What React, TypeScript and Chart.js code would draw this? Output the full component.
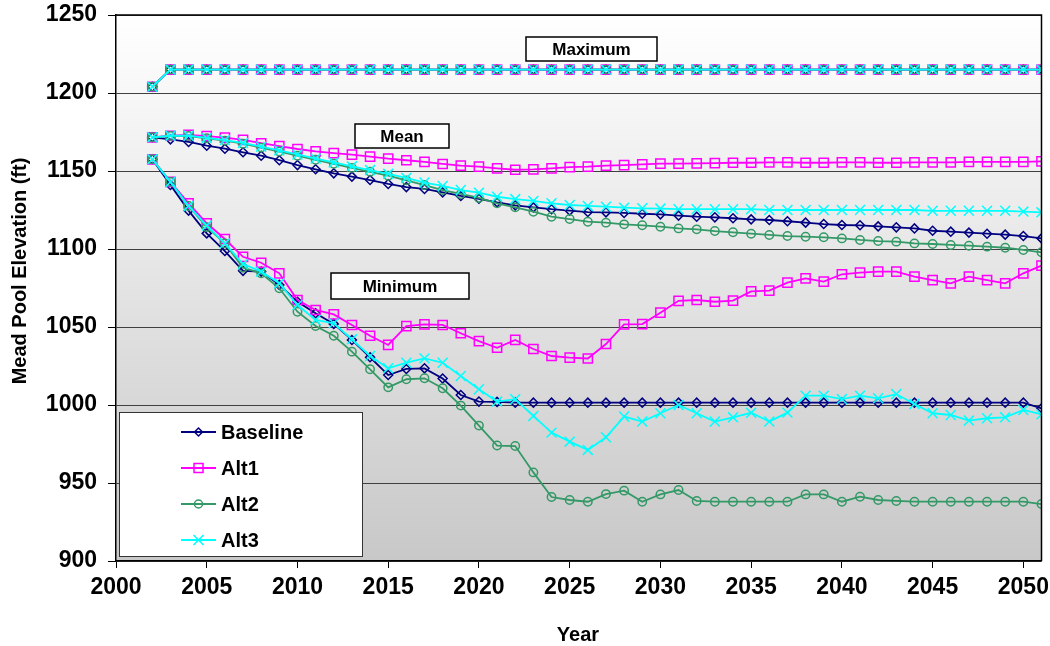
import React, { useEffect, useRef } from 'react';
import { Chart, registerables } from 'chart.js';

Chart.register(...registerables);

const years = [
  2002, 2003, 2004, 2005, 2006, 2007, 2008, 2009, 2010, 2011,
  2012, 2013, 2014, 2015, 2016, 2017, 2018, 2019, 2020, 2021,
  2022, 2023, 2024, 2025, 2026, 2027, 2028, 2029, 2030, 2031,
  2032, 2033, 2034, 2035, 2036, 2037, 2038, 2039, 2040, 2041,
  2042, 2043, 2044, 2045, 2046, 2047, 2048, 2049, 2050, 2051,
];

const xTicks = [2000, 2005, 2010, 2015, 2020, 2025, 2030, 2035, 2040, 2045, 2050];
const yTicks = [900, 950, 1000, 1050, 1100, 1150, 1200, 1250];

// Maximum (all alternatives coincide)
const baselineMax = [
  1204, 1215, 1215, 1215, 1215, 1215, 1215, 1215, 1215, 1215,
  1215, 1215, 1215, 1215, 1215, 1215, 1215, 1215, 1215, 1215,
  1215, 1215, 1215, 1215, 1215, 1215, 1215, 1215, 1215, 1215,
  1215, 1215, 1215, 1215, 1215, 1215, 1215, 1215, 1215, 1215,
  1215, 1215, 1215, 1215, 1215, 1215, 1215, 1215, 1215, 1215,
];
const alt1Max = [
  1204, 1215, 1215, 1215, 1215, 1215, 1215, 1215, 1215, 1215,
  1215, 1215, 1215, 1215, 1215, 1215, 1215, 1215, 1215, 1215,
  1215, 1215, 1215, 1215, 1215, 1215, 1215, 1215, 1215, 1215,
  1215, 1215, 1215, 1215, 1215, 1215, 1215, 1215, 1215, 1215,
  1215, 1215, 1215, 1215, 1215, 1215, 1215, 1215, 1215, 1215,
];
const alt2Max = [
  1204, 1215, 1215, 1215, 1215, 1215, 1215, 1215, 1215, 1215,
  1215, 1215, 1215, 1215, 1215, 1215, 1215, 1215, 1215, 1215,
  1215, 1215, 1215, 1215, 1215, 1215, 1215, 1215, 1215, 1215,
  1215, 1215, 1215, 1215, 1215, 1215, 1215, 1215, 1215, 1215,
  1215, 1215, 1215, 1215, 1215, 1215, 1215, 1215, 1215, 1215,
];
const alt3Max = [
  1204, 1215, 1215, 1215, 1215, 1215, 1215, 1215, 1215, 1215,
  1215, 1215, 1215, 1215, 1215, 1215, 1215, 1215, 1215, 1215,
  1215, 1215, 1215, 1215, 1215, 1215, 1215, 1215, 1215, 1215,
  1215, 1215, 1215, 1215, 1215, 1215, 1215, 1215, 1215, 1215,
  1215, 1215, 1215, 1215, 1215, 1215, 1215, 1215, 1215, 1215,
];

// Mean
const baselineMean = [
  1171.6, 1170.3, 1168.6, 1166.2, 1164.3, 1162.0, 1159.8, 1156.9, 1153.8, 1151.1,
  1148.5, 1146.4, 1144.2, 1141.7, 1139.7, 1138.5, 1136.3, 1134.0, 1132.2, 1129.9,
  1128.0, 1126.7, 1125.5, 1124.6, 1123.7, 1123.5, 1123.1, 1122.6, 1122.2, 1121.4,
  1120.7, 1120.3, 1119.7, 1119.0, 1118.6, 1117.8, 1116.9, 1116.0, 1115.4, 1115.2,
  1114.5, 1113.9, 1113.2, 1111.7, 1111.1, 1110.5, 1109.8, 1109.2, 1108.3, 1106.8,
];
const alt1Mean = [
  1171.6, 1172.6, 1173.1, 1172.4, 1171.4, 1169.9, 1167.8, 1166.0, 1164.1, 1162.6,
  1161.5, 1160.5, 1159.2, 1157.9, 1156.9, 1155.8, 1154.5, 1153.4, 1152.8, 1151.7,
  1150.8, 1151.0, 1151.7, 1152.5, 1152.8, 1153.4, 1153.8, 1154.3, 1154.7, 1154.7,
  1154.9, 1155.1, 1155.3, 1155.3, 1155.5, 1155.5, 1155.3, 1155.3, 1155.5, 1155.5,
  1155.3, 1155.3, 1155.5, 1155.5, 1155.5, 1155.9, 1155.9, 1155.9, 1155.9, 1156.2,
];
const alt2Mean = [
  1171.6, 1172.4, 1172.4, 1171.0, 1169.5, 1167.5, 1165.0, 1162.5, 1159.8, 1157.2,
  1154.6, 1152.0, 1149.5, 1147.0, 1144.0, 1141.0, 1137.8, 1135.3, 1132.7, 1129.3,
  1126.7, 1123.9, 1120.7, 1119.2, 1117.5, 1116.9, 1115.8, 1115.2, 1114.3, 1113.2,
  1112.6, 1111.5, 1110.7, 1109.8, 1109.0, 1108.3, 1107.9, 1107.5, 1106.8, 1105.8,
  1105.1, 1104.7, 1103.6, 1103.2, 1102.6, 1102.1, 1101.5, 1100.8, 1099.4, 1097.9,
];
const alt3Mean = [
  1171.6, 1172.6, 1172.6, 1171.2, 1169.8, 1168.0, 1165.6, 1163.2, 1160.6, 1158.0,
  1155.5, 1153.0, 1150.6, 1148.2, 1145.6, 1142.6, 1140.4, 1137.8, 1136.1, 1133.5,
  1132.0, 1130.8, 1129.3, 1128.2, 1127.6, 1127.1, 1126.5, 1126.1, 1125.9, 1125.5,
  1125.5, 1125.5, 1125.5, 1125.5, 1125.0, 1125.0, 1125.0, 1125.0, 1125.0, 1125.0,
  1125.0, 1125.0, 1125.0, 1124.5, 1124.5, 1124.5, 1124.5, 1124.5, 1124.0, 1123.5,
];

// Minimum
const baselineMin = [
  1157.5, 1141.0, 1124.6, 1110.0, 1098.7, 1086.0, 1085.5, 1077.0, 1066.2, 1058.8,
  1052.0, 1041.7, 1030.6, 1019.2, 1023.1, 1023.5, 1017.0, 1006.4, 1002.2, 1002.0,
  1001.5, 1001.5, 1001.5, 1001.5, 1001.5, 1001.5, 1001.5, 1001.5, 1001.5, 1001.5,
  1001.5, 1001.5, 1001.5, 1001.5, 1001.5, 1001.5, 1001.5, 1001.5, 1001.5, 1001.5,
  1001.5, 1001.5, 1001.5, 1001.5, 1001.5, 1001.5, 1001.5, 1001.5, 1001.5, 997.9,
];
const alt1Min = [
  1157.5, 1143.0, 1129.3, 1116.5, 1106.4, 1095.0, 1091.2, 1084.4, 1067.3, 1060.9,
  1058.1, 1051.3, 1044.4, 1038.5, 1050.6, 1051.7, 1051.3, 1046.0, 1041.0, 1036.7,
  1041.7, 1035.9, 1031.4, 1030.4, 1029.8, 1039.1, 1051.7, 1051.9, 1059.2, 1066.8,
  1067.3, 1066.2, 1066.9, 1072.8, 1073.3, 1078.4, 1081.2, 1079.1, 1083.8, 1084.8,
  1085.5, 1085.5, 1082.3, 1080.1, 1078.0, 1082.3, 1080.1, 1078.0, 1084.4, 1089.3,
];
const alt2Min = [
  1157.5, 1143.0, 1127.6, 1114.0, 1103.6, 1088.0, 1084.4, 1074.8, 1059.8, 1050.6,
  1044.4, 1034.2, 1022.9, 1011.3, 1016.5, 1017.1, 1010.7, 999.6, 986.8, 974.0,
  973.7, 956.8, 941.0, 939.1, 938.0, 942.9, 945.1, 938.0, 942.7, 945.5,
  938.5, 938.0, 938.0, 938.0, 938.0, 938.0, 942.7, 942.7, 938.0, 941.2,
  939.1, 938.5, 938.0, 938.0, 938.0, 938.0, 938.0, 938.0, 938.0, 936.5,
];
const alt3Min = [
  1157.5, 1143.0, 1127.6, 1115.0, 1103.6, 1090.4, 1085.5, 1078.0, 1064.1, 1054.5,
  1052.4, 1042.1, 1031.4, 1023.5, 1027.1, 1029.9, 1027.1, 1018.6, 1010.1, 1002.2,
  1003.7, 993.0, 982.3, 976.5, 971.2, 979.3, 992.6, 989.4, 994.7, 1000.0,
  994.7, 989.4, 992.1, 995.0, 989.4, 995.1, 1006.0, 1006.0, 1003.8, 1006.0,
  1004.3, 1007.0, 1000.6, 994.7, 993.6, 990.0, 991.5, 992.1, 996.8, 994.0,
];

const seriesNames = ['Baseline', 'Alt1', 'Alt2', 'Alt3'];
const seriesColors = ['#000080', '#FF00FF', '#339966', '#00FFFF'];
const seriesStyles = ['rectRot', 'rect', 'circle', 'crossRot'];
const seriesRadii = [4.5, 6.5, 4.2, 7];
const seriesGroups = [
  [baselineMax, baselineMean, baselineMin],
  [alt1Max, alt1Mean, alt1Min],
  [alt2Max, alt2Mean, alt2Min],
  [alt3Max, alt3Mean, alt3Min],
];

const annotations = [
  { text: 'Maximum', box: [526, 37, 131, 24] },
  { text: 'Mean', box: [355, 124, 94, 24] },
  { text: 'Minimum', box: [331, 273, 138, 26] },
];

const FONT = '"Liberation Sans", Arial, Helvetica, sans-serif';

function drawMarker(ctx: CanvasRenderingContext2D, style: string, x: number, y: number, r: number) {
  ctx.beginPath();
  if (style === 'rectRot') {
    ctx.moveTo(x - r, y);
    ctx.lineTo(x, y - r);
    ctx.lineTo(x + r, y);
    ctx.lineTo(x, y + r);
    ctx.closePath();
  } else if (style === 'rect') {
    ctx.rect(x - r, y - r, 2 * r, 2 * r);
  } else if (style === 'circle') {
    ctx.arc(x, y, r, 0, Math.PI * 2);
  } else {
    ctx.moveTo(x - r, y - r);
    ctx.lineTo(x + r, y + r);
    ctx.moveTo(x + r, y - r);
    ctx.lineTo(x - r, y + r);
  }
  ctx.stroke();
}

export default function App() {
  const ref = useRef<HTMLCanvasElement>(null);

  useEffect(() => {
    const canvas = ref.current;
    if (!canvas) return;

    const datasets: any[] = [];
    seriesGroups.forEach((groups, si) => {
      groups.forEach((vals) => {
        datasets.push({
          label: seriesNames[si],
          data: years.map((yr, i) => ({ x: yr, y: vals[i] })),
          borderColor: seriesColors[si],
          backgroundColor: 'rgba(0,0,0,0)',
          borderWidth: 1.8,
          pointStyle: seriesStyles[si],
          pointRadius: seriesRadii[si],
          pointBorderColor: seriesColors[si],
          pointBackgroundColor: 'rgba(0,0,0,0)',
          pointBorderWidth: 1.5,
          tension: 0,
          fill: false,
          order: 3 - si,
        });
      });
    });

    const decor = {
      id: 'decor',
      beforeDraw(chart: any) {
        const { ctx, chartArea: a } = chart;
        const g = ctx.createLinearGradient(0, a.top, 0, a.bottom);
        g.addColorStop(0, '#ffffff');
        g.addColorStop(1, '#c8c8c8');
        ctx.save();
        ctx.fillStyle = g;
        ctx.fillRect(a.left, a.top, a.right - a.left, a.bottom - a.top);
        ctx.restore();
      },
      afterDraw(chart: any) {
        const { ctx, chartArea: a } = chart;
        ctx.save();
        // frame top & right
        ctx.strokeStyle = '#000';
        ctx.lineWidth = 1.5;
        ctx.beginPath();
        ctx.moveTo(a.left, a.top);
        ctx.lineTo(a.right, a.top);
        ctx.lineTo(a.right, a.bottom);
        ctx.stroke();

        // annotation boxes
        ctx.textAlign = 'center';
        ctx.textBaseline = 'middle';
        ctx.font = `bold 17px ${FONT}`;
        annotations.forEach((an) => {
          const [x, y, w, h] = an.box;
          ctx.fillStyle = '#fff';
          ctx.fillRect(x, y, w, h);
          ctx.strokeStyle = '#000';
          ctx.lineWidth = 1.5;
          ctx.strokeRect(x, y, w, h);
          ctx.fillStyle = '#000';
          ctx.fillText(an.text, x + w / 2, y + h / 2 + 1);
        });

        // legend
        ctx.fillStyle = '#fff';
        ctx.fillRect(119.5, 412.5, 243, 144);
        ctx.strokeStyle = '#333';
        ctx.lineWidth = 1;
        ctx.strokeRect(119.5, 412.5, 243, 144);
        const rowsY = [432, 468, 504, 540];
        const legR = [4, 4.5, 4, 5];
        ctx.textAlign = 'left';
        ctx.font = `bold 20px ${FONT}`;
        seriesNames.forEach((name, i) => {
          const y = rowsY[i];
          ctx.strokeStyle = seriesColors[i];
          ctx.lineWidth = 1.8;
          ctx.beginPath();
          ctx.moveTo(181, y);
          ctx.lineTo(216, y);
          ctx.stroke();
          ctx.lineWidth = 1.5;
          drawMarker(ctx, seriesStyles[i], 198.5, y, legR[i]);
          ctx.fillStyle = '#000';
          ctx.fillText(name, 221, y + 1);
        });

        // axis titles
        ctx.fillStyle = '#000';
        ctx.font = `bold 20px ${FONT}`;
        ctx.textAlign = 'center';
        ctx.textBaseline = 'middle';
        ctx.fillText('Year', 578, 635);
        ctx.translate(20, 271);
        ctx.rotate(-Math.PI / 2);
        ctx.fillText('Mead Pool Elevation (ft)', 0, 0);
        ctx.restore();
      },
    };

    const chart = new Chart(canvas, {
      type: 'line',
      data: { datasets },
      options: {
        animation: false,
        responsive: true,
        maintainAspectRatio: false,
        layout: { padding: { top: 15, right: 8, left: 0, bottom: 0 } },
        plugins: {
          legend: { display: false },
          tooltip: { enabled: false },
        },
        scales: {
          x: {
            type: 'linear',
            min: 2000,
            max: 2051,
            afterFit: (s: any) => {
              s.height = 85;
              s.paddingLeft = 0;
              s.paddingRight = 0;
            },
            afterBuildTicks: (s: any) => { s.ticks = xTicks.map((v) => ({ value: v })); },
            ticks: {
              callback: (v: any) => String(v),
              color: '#000',
              font: { family: FONT, size: 23, weight: 'bold', lineHeight: 1 },
              padding: 8,
              maxRotation: 0,
              autoSkip: false,
            },
            grid: { drawOnChartArea: false, drawTicks: true, tickLength: 7, tickColor: '#000' },
            border: { display: true, color: '#000', width: 1.5 },
          },
          y: {
            type: 'linear',
            min: 900,
            max: 1250,
            afterFit: (s: any) => {
              s.width = 116;
              s.paddingTop = 0;
              s.paddingBottom = 0;
            },
            afterBuildTicks: (s: any) => { s.ticks = yTicks.map((v) => ({ value: v })); },
            ticks: {
              callback: (v: any) => String(v),
              color: '#000',
              font: { family: FONT, size: 23, weight: 'bold', lineHeight: 1 },
              padding: 11,
              autoSkip: false,
            },
            grid: { color: '#404040', lineWidth: 1, drawTicks: true, tickLength: 8, tickColor: '#000' },
            border: { display: true, color: '#000', width: 1.5 },
          },
        },
      } as any,
      plugins: [decor],
    });

    return () => chart.destroy();
  }, []);

  return (
    <div style={{ position: 'absolute', left: 0, top: 0, width: 1050, height: 646, background: '#fff' }}>
      <canvas ref={ref} />
    </div>
  );
}
